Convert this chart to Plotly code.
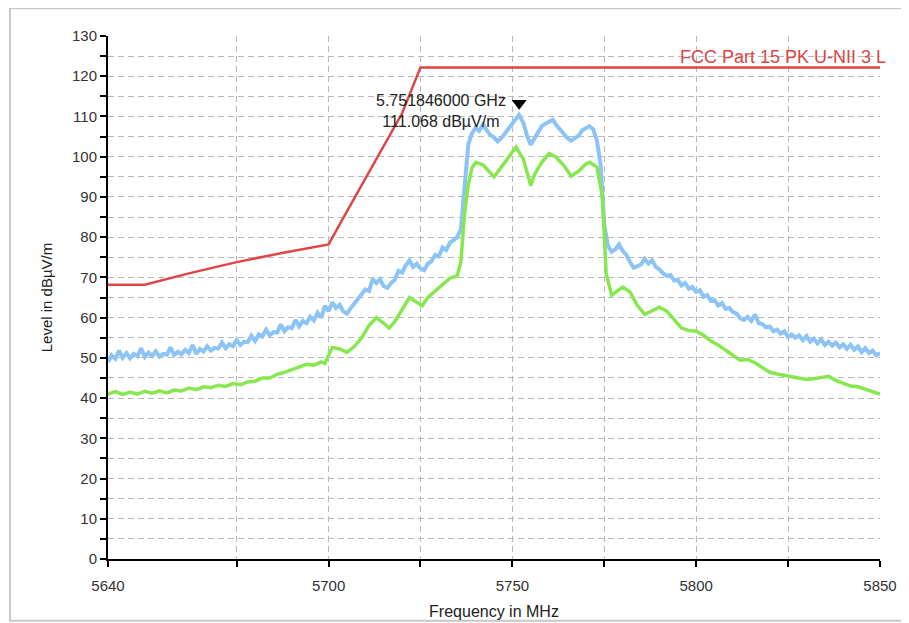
import plotly.graph_objects as go

# limit line (FCC Part 15 PK U-NII 3 L)
limit_f = [5640, 5650, 5662, 5675, 5687, 5700, 5705, 5710, 5715, 5720, 5725, 5850]
limit_v = [68.2, 68.2, 71.0, 73.8, 76.0, 78.2, 86.4, 94.5, 102.7, 110.8, 122.2, 122.2]

# peak trace (blue)
blue_f = [5640, 5641, 5642, 5643, 5644, 5645, 5646, 5647, 5648, 5649, 5650, 5651, 5652, 5653,
          5654, 5655, 5656, 5657, 5658, 5659, 5660, 5661, 5662, 5663, 5664, 5665, 5666, 5667,
          5668, 5669, 5670, 5671, 5672, 5673, 5674, 5675, 5676, 5677, 5678, 5679, 5680, 5681,
          5682, 5683, 5684, 5685, 5686, 5687, 5688, 5689, 5690, 5691, 5692, 5693, 5694, 5695,
          5696, 5697, 5698, 5699, 5700, 5701, 5702, 5703, 5704, 5705, 5706, 5707, 5708, 5709,
          5710, 5711, 5712, 5713, 5714, 5715, 5716, 5717, 5718, 5719, 5720, 5721, 5722, 5723,
          5724, 5725, 5726, 5727, 5728, 5729, 5730, 5731, 5732, 5733, 5734, 5735, 5736, 5737,
          5738, 5739, 5740, 5741, 5742, 5743, 5744, 5745, 5746, 5747, 5748, 5749, 5750, 5751,
          5751.8, 5753, 5754, 5755, 5756, 5757, 5758, 5759, 5760, 5761, 5762, 5763, 5764, 5765,
          5766, 5767, 5768, 5769, 5770, 5771, 5772, 5773, 5774, 5775, 5776, 5777, 5778, 5779,
          5780, 5781, 5782, 5783, 5784, 5785, 5786, 5787, 5788, 5789, 5790, 5791, 5792, 5793,
          5794, 5795, 5796, 5797, 5798, 5799, 5800, 5801, 5802, 5803, 5804, 5805, 5806, 5807,
          5808, 5809, 5810, 5811, 5812, 5813, 5814, 5815, 5816, 5817, 5818, 5819, 5820, 5821,
          5822, 5823, 5824, 5825, 5826, 5827, 5828, 5829, 5830, 5831, 5832, 5833, 5834, 5835,
          5836, 5837, 5838, 5839, 5840, 5841, 5842, 5843, 5844, 5845, 5846, 5847, 5848, 5849,
          5850]
blue_v = [49.0, 50.6, 49.8, 51.8, 50.0, 51.2, 49.9, 51.0, 50.4, 52.4, 50.2, 51.3, 50.5, 51.6,
          50.3, 51.0, 50.8, 52.6, 50.7, 51.5, 50.9, 52.0, 51.2, 53.2, 51.0, 52.2, 51.6, 52.9,
          51.8, 52.5, 52.3, 53.8, 52.4, 53.4, 52.9, 54.4, 53.2, 54.0, 53.9, 55.5, 54.2, 55.8,
          55.3, 57.0, 55.6, 56.4, 56.3, 58.3, 56.6, 57.6, 57.4, 59.4, 57.8, 59.2, 58.6, 60.2,
          59.3, 61.2, 60.0, 62.9, 61.6, 63.8, 62.4, 63.2, 61.5, 61.0, 62.3, 63.4, 64.8, 65.6,
          67.0, 66.6, 69.6, 68.6, 69.5, 67.8, 67.4, 68.6, 69.4, 71.6, 71.2, 73.0, 74.2, 72.6,
          73.4, 72.2, 71.8, 73.4, 74.0, 75.6, 75.2, 77.4, 76.8, 78.6, 79.2, 80.0, 82.0, 93.0,
          103.0, 105.8, 107.2, 106.4, 108.0, 106.6, 105.4, 104.8, 103.8, 104.6, 105.8, 107.0, 108.4, 109.2,
          110.4, 108.4, 105.2, 103.0, 104.4, 106.2, 107.6, 108.2, 108.8, 109.2, 107.8, 106.8, 105.6, 104.6,
          104.0, 104.6, 105.2, 106.6, 107.0, 107.6, 106.8, 104.0, 98.0, 83.0, 77.8, 76.4, 77.0, 78.2,
          76.6, 75.6, 73.8, 72.4, 72.8, 73.2, 74.6, 73.4, 74.2, 72.6, 72.0, 71.0, 70.4, 70.6,
          69.2, 69.4, 68.0, 68.6, 67.2, 67.6, 66.4, 66.8, 65.2, 65.6, 64.2, 64.4, 63.0, 63.6,
          62.2, 62.4, 61.4, 61.0, 59.8, 59.4, 60.2, 59.2, 60.8, 58.6, 58.4, 57.6, 57.8, 56.6,
          57.0, 56.0, 56.6, 55.2, 55.8, 55.0, 55.6, 54.4, 55.4, 54.0, 54.8, 53.6, 54.6, 53.2,
          54.0, 53.0, 53.8, 52.6, 53.4, 52.2, 53.2, 52.0, 52.8, 51.4, 52.4, 51.2, 51.8, 50.6,
          51.2]

# average trace (green)
green_f = [5640, 5642, 5644, 5646, 5648, 5650, 5652, 5654, 5656, 5658, 5660, 5662, 5664, 5666,
           5668, 5670, 5672, 5674, 5676, 5678, 5680, 5682, 5684, 5686, 5688, 5690, 5692, 5694,
           5696, 5698, 5699, 5701, 5703, 5705, 5707, 5709, 5711, 5713, 5715, 5716.5, 5718, 5720,
           5722, 5724, 5725.5, 5727, 5729, 5731, 5733, 5735, 5736, 5737, 5738, 5739, 5740, 5742,
           5744, 5745, 5747, 5749, 5751, 5753, 5754, 5755, 5756, 5758, 5760, 5762, 5764, 5766,
           5768, 5770, 5771, 5773, 5774.5, 5775.5, 5777, 5779, 5780, 5782, 5784, 5786, 5788,
           5790, 5792, 5794, 5796, 5798, 5800, 5802, 5804, 5806, 5808, 5810, 5812, 5814, 5816,
           5818, 5820, 5822, 5824, 5826, 5828, 5830, 5832, 5834, 5836, 5838, 5840, 5842, 5844,
           5846, 5848, 5850]
green_v = [41.0, 41.6, 40.9, 41.5, 41.0, 41.7, 41.2, 41.8, 41.3, 42.0, 41.8, 42.5, 42.1, 42.8,
           42.6, 43.2, 42.9, 43.6, 43.3, 44.0, 44.2, 45.0, 45.0, 45.9, 46.4, 47.1, 47.6, 48.4,
           48.2, 49.0, 48.6, 52.6, 52.2, 51.4, 52.8, 55.0, 58.0, 60.0, 58.6, 57.4, 59.0, 62.0,
           65.0, 63.8, 63.0, 65.0, 66.6, 68.4, 69.8, 70.4, 74.0, 86.0, 93.0, 97.2, 98.6, 98.0,
           96.0, 95.0, 97.4, 100.0, 102.4, 99.4, 96.0, 92.8, 95.6, 98.6, 100.8, 99.8, 97.8, 95.2,
           96.4, 98.2, 98.6, 97.4, 90.0, 71.0, 65.6, 66.8, 67.6, 66.4, 63.0, 60.8, 61.8,
           62.6, 61.6, 59.6, 57.4, 56.8, 56.6, 55.6, 54.2, 53.2, 51.8, 50.6, 49.4, 49.6, 48.8,
           47.6, 46.4, 46.0, 45.6, 45.3, 45.0, 44.6, 44.8, 45.0, 45.4, 44.4, 43.6, 43.0, 42.8,
           42.2, 41.8, 41.0]

marker_f = 5751.846
marker_v = 111.068

x_ticks = [5640, 5675, 5700, 5725, 5750, 5775, 5800, 5825, 5850]
x_labels = ["5640", "", "5700", "", "5750", "", "5800", "", "5850"]

font = "Liberation Sans"
grid = "#b9b9b9"

fig = go.Figure()
fig.add_trace(go.Scatter(x=blue_f, y=blue_v, mode="lines",
                         line=dict(color="#8cc4f7", width=4), hoverinfo="skip"))
fig.add_trace(go.Scatter(x=green_f, y=green_v, mode="lines",
                         line=dict(color="#86e84e", width=3.5), hoverinfo="skip"))
fig.add_trace(go.Scatter(x=limit_f, y=limit_v, mode="lines",
                         line=dict(color="#e04444", width=2.5), hoverinfo="skip"))
fig.add_trace(go.Scatter(x=[marker_f], y=[marker_v + 2.2], mode="markers",
                         marker=dict(symbol="triangle-down", size=13, color="black"),
                         hoverinfo="skip"))

fig.add_annotation(x=5730.5, y=111.4, text="5.751846000 GHz<br>111.068 dBµV/m",
                   showarrow=False, align="center", font=dict(family=font, size=16, color="#222"))
fig.add_annotation(x=1.011, xref="paper", y=121.8, yref="y", xanchor="right", yanchor="bottom",
                   text="FCC Part 15 PK U-NII 3 L", showarrow=False,
                   font=dict(family=font, size=18, color="#e04444"))

# outer frame
fig.add_shape(type="rect", xref="paper", yref="paper", x0=-0.127, x1=1.034, y0=-0.118, y1=1.053,
              line=dict(color="#c8c8c8", width=2))

fig.update_xaxes(range=[5640, 5850], tickvals=x_ticks, ticktext=x_labels, automargin=False,
                 showline=True, linecolor="black", linewidth=2,
                 ticks="outside", ticklen=6, tickwidth=2, tickcolor="black",
                 ticklabelstandoff=6,
                 showgrid=True, gridcolor=grid, griddash="6px,4px", gridwidth=1,
                 zeroline=False,
                 title=dict(text="Frequency in MHz", standoff=13,
                            font=dict(family=font, size=16, color="#222")),
                 tickfont=dict(family=font, size=15, color="#333"))
fig.update_yaxes(range=[0, 130], dtick=10, automargin=False,
                 showline=True, linecolor="black", linewidth=2,
                 ticks="outside", ticklen=6, tickwidth=2, tickcolor="black",
                 showgrid=True, gridcolor=grid, griddash="6px,4px", gridwidth=1,
                 zeroline=False,
                 minor=dict(dtick=5, ticks="outside", ticklen=6, tickwidth=2, tickcolor="black",
                            showgrid=True, gridcolor=grid, griddash="6px,4px", gridwidth=1),
                 title=dict(text="Level in dBµV/m", standoff=16,
                            font=dict(family=font, size=15, color="#222")),
                 tickfont=dict(family=font, size=15, color="#333"))

# page body adds an 8 px offset, so the figure is 8 px smaller than the window
fig.update_layout(width=901, height=615, showlegend=False,
                  margin=dict(l=100, r=29, t=28, b=64),
                  paper_bgcolor="white", plot_bgcolor="white")

fig.write_html("out.html")
